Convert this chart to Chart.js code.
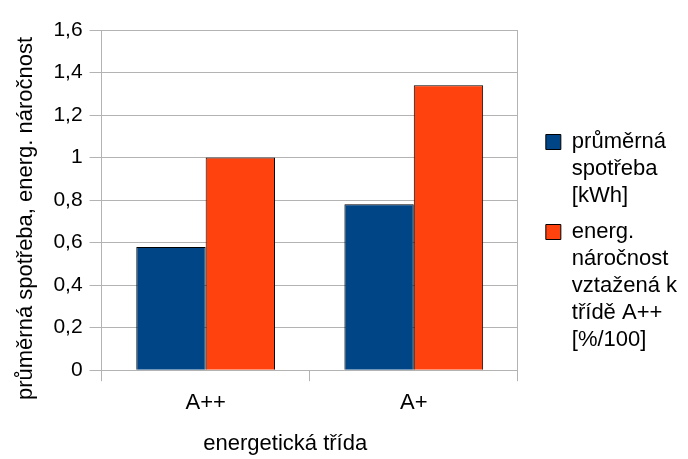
<!DOCTYPE html>
<html>
<head>
<meta charset="utf-8">
<script src="https://cdn.jsdelivr.net/npm/chart.js@4"></script>
<style>
  html, body { margin: 0; padding: 0; background: #fff; }
  #c { display: block; }
</style>
</head>
<body>
<canvas id="c" width="688" height="459"></canvas>
<script>
const categories = ['A++', 'A+'];
const seriesNames = [
  ['průměrná', 'spotřeba', '[kWh]'],
  ['energ.', 'náročnost', 'vztažená k', 'třídě A++', '[%/100]']
];
const spotrebaValues = [0.58, 0.78];
const narocnostValues = [1.0, 1.34];
const yTickLabels = ['0', '0,2', '0,4', '0,6', '0,8', '1', '1,2', '1,4', '1,6'];
const yTitle = 'průměrná spotřeba, energ. náročnost';
const xTitle = 'energetická třída';

const GRID = '#b3b3b3';
Chart.defaults.font.family = '"Liberation Sans", Arial, sans-serif';
Chart.defaults.color = '#000';

new Chart(document.getElementById('c'), {
  type: 'bar',
  data: {
    labels: categories,
    datasets: [
      { label: seriesNames[0].join(' '), legendLines: seriesNames[0], data: spotrebaValues,
        backgroundColor: '#004586', borderColor: '#000', borderWidth: 1 },
      { label: seriesNames[1].join(' '), legendLines: seriesNames[1], data: narocnostValues,
        backgroundColor: '#ff420e', borderColor: '#000', borderWidth: 1 }
    ]
  },
  options: {
    responsive: false,
    animation: false,
    layout: { padding: { top: 30, left: 0, right: 1, bottom: 2 } },
    datasets: { bar: { categoryPercentage: 2 / 3, barPercentage: 1 } },
    plugins: {
      tooltip: { enabled: false },
      legend: {
        position: 'right',
        maxWidth: 220,
        labels: {
          boxWidth: 15,
          boxHeight: 15,
          padding: 9,
          font: { size: 22, lineHeight: 27 / 22 },
          color: '#000',
          generateLabels: (chart) => chart.data.datasets.map((ds, i) => ({
            text: ds.legendLines,
            fillStyle: ds.backgroundColor,
            strokeStyle: '#000',
            lineWidth: 1,
            hidden: false,
            datasetIndex: i
          }))
        }
      }
    },
    scales: {
      x: {
        offset: true,
        grid: {
          offset: true,
          drawOnChartArea: true,
          color: (ctx) => (ctx.index === 1 ? 'rgba(0,0,0,0)' : GRID),
          tickColor: GRID,
          tickLength: 11,
          lineWidth: 1
        },
        border: { display: true, color: GRID },
        ticks: { padding: 9, font: { size: 22 }, color: '#000' },
        title: {
          display: true,
          text: xTitle + '        ',
          font: { size: 22 },
          color: '#000',
          padding: { top: 5, bottom: 0 }
        }
      },
      y: {
        min: 0,
        max: 1.6,
        ticks: {
          stepSize: 0.2,
          padding: 7,
          font: { size: 21 },
          color: '#000',
          callback: (v, i) => yTickLabels[i]
        },
        grid: { color: GRID, tickColor: GRID, tickLength: 12, lineWidth: 1 },
        border: { display: true, color: GRID },
        title: {
          display: true,
          text: yTitle + '      ',
          font: { size: 22 },
          color: '#000',
          padding: { top: 13, bottom: 7 }
        }
      },
      pad: {
        position: 'right',
        display: true,
        grid: { display: false },
        border: { display: false },
        ticks: { display: false },
        afterFit: (s) => { s.width = 19; }
      }
    }
  }
});
</script>
</body>
</html>
